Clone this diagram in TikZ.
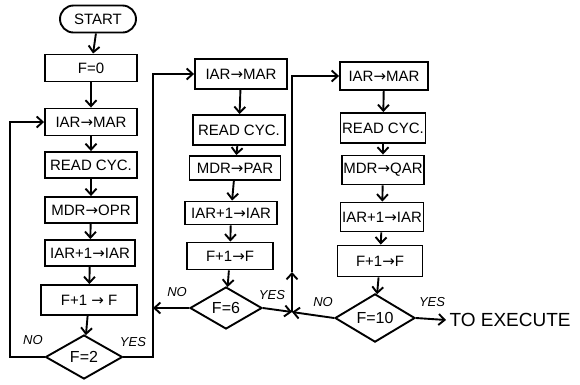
\documentclass[tikz,border=0pt]{standalone}
\usepackage{fontspec}
\setmainfont{Liberation Sans}
\newfontfamily\arrowfont{DejaVu Sans}
\newcommand\goesto{{\arrowfont →}}
\usetikzlibrary{calc,positioning,shapes,arrows.meta}

\tikzset{
	box/.style={draw,line width=1.9pt,minimum height=27pt,inner sep=1pt,font=\fontsize{15}{17}\selectfont},
	test/.style={draw,diamond,line width=1.9pt,inner sep=0pt,font=\fontsize{16}{18}\selectfont},
	lbl/.style={font=\fontsize{13}{15}\selectfont\itshape},
	flow/.style={line width=1.9pt,-{Straight Barb[length=6pt,width=11pt]}},
}

\begin{document}
\begin{tikzpicture}[x=1pt,y=-1pt]
	\useasboundingbox (0,0) rectangle (580,384);

	% first pass
	\node[box,rounded rectangle,minimum width=78pt] (start) at (98,19) {START};
	\node[box,minimum width=92pt] (f0) at (91,68) {F=0};
	\node[box,minimum width=92pt] (iarA) at (91,122) {IAR\goesto MAR};
	\node[box,minimum width=92pt,minimum height=26pt] (readA) at (91,165) {READ CYC.};
	\node[box,minimum width=92pt,minimum height=26pt] (mdrA) at (91,210) {MDR\goesto OPR};
	\node[box,minimum width=90pt,minimum height=26pt] (incA) at (90,253) {IAR+1\goesto IAR};
	\node[box,minimum width=96pt,minimum height=30pt] (fincA) at (89,300) {F+1 \goesto\ F};
	\node[test,minimum width=77pt,minimum height=44pt] (testA) at (84,357) {F=2};

	% second pass
	\node[box,minimum width=92pt,minimum height=30pt] (iarB) at (241,74) {IAR\goesto MAR};
	\node[box,minimum width=92pt,minimum height=30pt] (readB) at (239,130) {READ CYC.};
	\node[box,minimum width=91pt,minimum height=24pt] (mdrB) at (235,168) {MDR\goesto PAR};
	\node[box,minimum width=92pt,minimum height=23pt] (incB) at (231,213) {IAR+1\goesto IAR};
	\node[box,minimum width=86pt,minimum height=27pt] (fincB) at (230,256) {F+1\goesto F};
	\node[test,minimum width=72pt,minimum height=42pt] (testB) at (226,308) {F=6};

	% third pass
	\node[box,minimum width=88pt,minimum height=28pt] (iarC) at (384,76) {IAR\goesto MAR};
	\node[box,minimum width=85pt,minimum height=30pt] (readC) at (383,128) {READ CYC.};
	\node[box,minimum width=81pt,minimum height=29pt] (mdrC) at (383,170) {MDR\goesto QAR};
	\node[box,minimum width=83pt,minimum height=29pt] (incC) at (382,217) {IAR+1\goesto IAR};
	\node[box,minimum width=85pt,minimum height=31pt] (fincC) at (380,261) {F+1\goesto F};
	\node[test,minimum width=80pt,minimum height=47pt] (testC) at (375,318) {F=10};
	\node[anchor=west,font=\fontsize{19}{21}\selectfont] (exec) at (446,320) {TO EXECUTE};

	\coordinate (loopA) at (10,357);
	\coordinate (upA) at (153,357);
	\coordinate (j) at (292,312);
	\coordinate (mid) at (292,272);

	\draw[flow] (start) -- (f0);
	\draw[flow] (f0) -- (iarA);
	\draw[flow] (iarA) -- (readA);
	\draw[flow] (readA) -- (mdrA);
	\draw[flow] (mdrA) -- (incA);
	\draw[flow] (incA) -- (fincA);
	\draw[flow] (fincA) -- (testA);

	\draw[flow] (iarB) -- (readB);
	\draw[flow] (readB) -- (mdrB);
	\draw[flow] (mdrB) -- (incB);
	\draw[flow] (incB) -- (fincB);
	\draw[flow] (fincB) -- (testB);

	\draw[flow] (iarC) -- (readC);
	\draw[flow] (readC) -- (mdrC);
	\draw[flow] (mdrC) -- (incC);
	\draw[flow] (incC) -- (fincC);
	\draw[flow] (fincC) -- (testC);

	% branches
	\draw[flow] (testA.west) -- (loopA) |- (iarA.west);
	\draw[flow] (testA.east) -- (upA) |- (iarB.west);
	\draw[flow] (testB.west) -- (testB.west -| upA);
	\draw[flow] (testB.east) -- (j);
	\draw[flow] (testC.west) -- (j);
	\draw[flow] (j) -- (mid);
	\draw[flow] (mid) |- (iarC.west);
	\draw[flow] (testC.east) -- (exec.west);

	\node[lbl] (noA) at (33,340) {NO};
	\node[lbl] (yesA) at (133,342) {YES};
	\node[lbl] (noB) at (177,292) {NO};
	\node[lbl] (yesB) at (272,295) {YES};
	\node[lbl] (noC) at (323,302) {NO};
	\node[lbl] (yesC) at (432,302) {YES};
\end{tikzpicture}
\end{document}
